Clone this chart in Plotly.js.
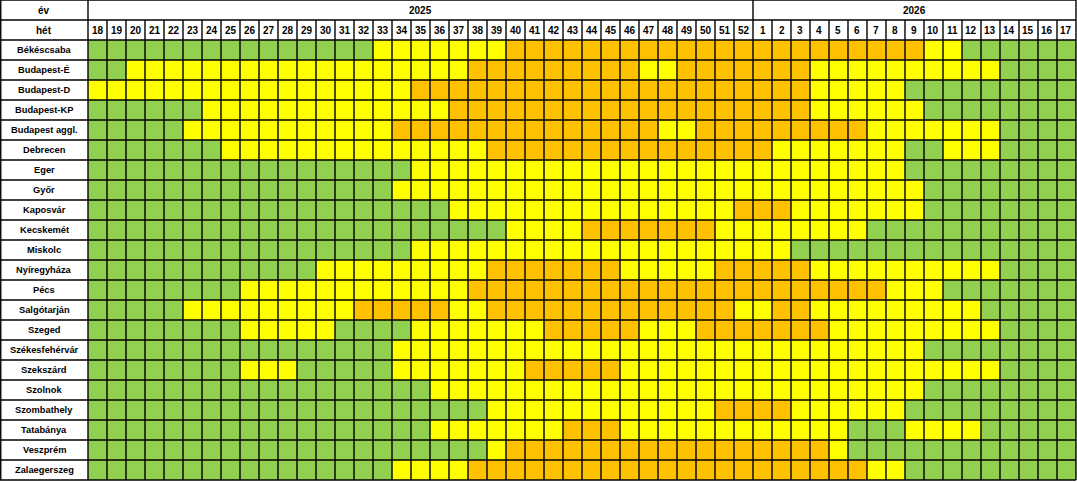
<!DOCTYPE html>
<html>
<head>
<meta charset="utf-8">
<script src="https://cdn.plot.ly/plotly-3.0.1.min.js"></script>
<style>
  html, body { margin: 0; padding: 0; background: #ffffff; }
  #chart { width: 1077px; height: 482px; }
</style>
</head>
<body>
<div id="chart"></div>
<script>
// ---- data ----
const cities = ["Békéscsaba", "Budapest-É", "Budapest-D", "Budapest-KP", "Budapest aggl.", "Debrecen",
  "Eger", "Győr", "Kaposvár", "Kecskemét", "Miskolc", "Nyíregyháza", "Pécs", "Salgótarján", "Szeged",
  "Székesfehérvár", "Szekszárd", "Szolnok", "Szombathely", "Tatabánya", "Veszprém", "Zalaegerszeg"];

const weeks = ["18","19","20","21","22","23","24","25","26","27","28","29","30","31","32","33","34","35",
  "36","37","38","39","40","41","42","43","44","45","46","47","48","49","50","51","52",
  "1","2","3","4","5","6","7","8","9","10","11","12","13","14","15","16","17"];

const years = ["2025", "2026"];
const yearWeekCount = [35, 17];

// level per city per week: 1 = green, 2 = yellow, 3 = orange
const levels = [
  // Békéscsaba
  [1,1,1,1,1, 1,1,1,1,1, 1,1,1,1,1,  2,2,2,2,2, 2,2,  3,3,3,3,3, 3,3,3,3,3, 3,3,3,
   3,3,3,3,3, 3,3,3,3,  2,2,  1,1,1,1,1, 1],
  // Budapest-É
  [1,1,  2,2,2,2,2, 2,2,2,2,2, 2,2,2,2,2, 2,2,2,  3,3,3,3,3, 3,3,3,3,  2,2,  3,3,3,3,
   3,3,3,  2,2,2,2,2, 2,2,2,2,2,  1,1,1,1],
  // Budapest-D
  [2,2,2,2,2, 2,2,2,2,2, 2,2,2,2,2, 2,2,  3,3,3,3,3, 3,3,3,3,3, 3,3,3,3,3, 3,3,3,
   3,3,3,  2,2,2,2,2,  1,1,1,1,1, 1,1,1,1],
  // Budapest-KP
  [1,1,1,1,1, 1,  2,2,2,2,2, 2,2,2,2,2, 2,2,2,  3,3,3,3,3, 3,3,3,3,3, 3,3,3,3,3, 3,
   3,3,3,  2,2,2,2,2, 2,  1,1,1,1,1, 1,1,1],
  // Budapest aggl.
  [1,1,1,1,1,  2,2,2,2,2, 2,2,2,2,2, 2,  3,3,3,3,3, 3,3,3,3,3, 3,3,3,3,  2,2,  3,3,3,
   3,3,3,3,3, 3,  2,2,2,2,2, 2,2,  1,1,1,1],
  // Debrecen
  [1,1,1,1,1, 1,1,  2,2,2,2,2, 2,2,2,2,2, 2,2,2,2,  3,3,3,3,3, 3,3,3,3,3, 3,3,3,3,
   3,  2,2,2,2,2, 2,2,  1,1,  2,2,2,  1,1,1,1],
  // Eger
  [1,1,1,1,1, 1,1,1,1,1, 1,1,1,1,1, 1,1,  2,2,2,2,2, 2,2,2,2,2, 2,2,2,2,2, 2,2,2,
   2,2,2,2,2, 2,2,2,  1,1,1,1,1, 1,1,1,1],
  // Győr
  [1,1,1,1,1, 1,1,1,1,1, 1,1,1,1,1, 1,  2,2,2,2,2, 2,2,2,2,2, 2,2,2,2,2, 2,2,2,2,
   2,2,2,2,2, 2,2,2,2,  1,1,1,1,1, 1,1,1],
  // Kaposvár
  [1,1,1,1,1, 1,1,1,1,1, 1,1,1,1,1, 1,1,1,1,  2,2,2,2,2, 2,2,2,2,2, 2,2,2,2,2,  3,
   3,3,  2,2,2,2,2, 2,2,  1,1,1,1,1, 1,1,1],
  // Kecskemét
  [1,1,1,1,1, 1,1,1,1,1, 1,1,1,1,1, 1,1,1,1,1, 1,1,  2,2,2,2,  3,3,3,3,3, 3,3,  2,2,
   2,2,2,2,2, 2,  1,1,1,1,1, 1,1,1,1,1, 1],
  // Miskolc
  [1,1,1,1,1, 1,1,1,1,1, 1,1,1,1,1, 1,1,  2,2,2,2,2, 2,2,2,2,2, 2,2,2,2,2, 2,2,2,
   2,2,  1,1,1,1,1, 1,1,1,1,1, 1,1,1,1,1],
  // Nyíregyháza
  [1,1,1,1,1, 1,1,1,1,1, 1,1,  2,2,2,2,2, 2,2,2,2,  3,3,3,3,3, 3,3,  2,2,2,2,2,  3,3,
   3,3,3,  2,2,2,2,2, 2,2,2,2,2,  1,1,1,1],
  // Pécs
  [1,1,1,1,1, 1,1,1,  2,2,2,2,2, 2,2,2,2,2, 2,2,  3,3,3,3,3, 3,3,3,3,3, 3,3,3,3,3,
   3,3,3,3,3, 3,3,  2,2,2,  1,1,1,1,1, 1,1],
  // Salgótarján
  [1,1,1,1,1,  2,2,2,2,2, 2,2,2,2,  3,3,3,3,3,  2,2,  3,3,3,3,3, 3,3,3,3,3, 3,3,3,  2,
   2,  3,3,  2,2,2,2,2, 2,2,2,2,  1,1,1,1,1],
  // Szeged
  [1,1,1,1,1, 1,1,1,  2,2,2,2,2,  1,1,1,1,  2,2,2,2,2, 2,2,  3,3,3,3,3,  2,2,2,  3,3,3,
   3,3,3,3,  2,2,2,2,2, 2,2,2,2,  1,1,1,1],
  // Székesfehérvár
  [1,1,1,1,1, 1,1,1,1,1, 1,1,1,1,1, 1,  2,2,2,2,2, 2,2,2,2,2, 2,2,2,2,2, 2,2,2,2,
   2,2,2,2,2, 2,2,2,2,  1,1,1,1,1, 1,1,1],
  // Szekszárd
  [1,1,1,1,1, 1,1,1,  2,2,2,  1,1,1,1,1,  2,2,2,2,2, 2,2,  3,3,3,3,3,  2,2,2,2,2, 2,2,
   2,2,2,2,2, 2,2,2,2,2, 2,2,2,  1,1,1,1],
  // Szolnok
  [1,1,1,1,1, 1,1,1,1,1, 1,1,1,1,1, 1,1,1,  2,2,2,2,2, 2,2,2,2,2, 2,2,2,2,2, 2,2,
   2,2,2,2,2, 2,2,2,2,  1,1,1,1,1, 1,1,1],
  // Szombathely
  [1,1,1,1,1, 1,1,1,1,1, 1,1,1,1,1, 1,1,1,1,1, 1,  2,2,2,2,2, 2,2,2,2,2, 2,2,  3,3,
   3,3,  2,2,2,2,2, 2,  1,1,1,1,1, 1,1,1,1],
  // Tatabánya
  [1,1,1,1,1, 1,1,1,1,1, 1,1,1,1,1, 1,1,1,  2,2,2,2,2, 2,2,  3,3,3,  2,2,2,2,2, 2,2,
   2,2,2,2,2,  1,1,1,  2,2,2,2,  1,1,1,1,1],
  // Veszprém
  [1,1,1,1,1, 1,1,1,1,1, 1,1,1,1,1, 1,1,1,1,1, 1,  2,  3,3,3,3,3, 3,3,3,3,3, 3,3,3,
   3,3,3,3,  2,  1,1,1,1,1, 1,1,1,1,1, 1,1],
  // Zalaegerszeg
  [1,1,1,1,1, 1,1,1,1,1, 1,1,1,1,1, 1,  2,2,2,2,  3,3,3,3,3, 3,3,3,3,3, 3,3,3,3,3,
   3,3,3,3,3, 3,  2,2,  1,1,1,1,1, 1,1,1,1]
];

const levelColors = ["#92D050", "#FFFF00", "#FFC000"];
const headerYear = "év";
const headerWeek = "hét";

// ---- checks ----
levels.forEach((row, i) => {
  if (row.length !== weeks.length) throw new Error("row " + cities[i] + " has " + row.length + " values");
});

// ---- geometry in data units (1 unit = one cell) ----
const labelLeft = -5.1316;   // left edge of the label column
const xLeft = -0.5, xRight = weeks.length - 0.5;
const yTop = -2.5, yBottom = cities.length - 0.5 + 0.1;
const lineColor = "#000000";
const lw = 1.4;

const xIdx = weeks.map((w, i) => i);
const yIdx = cities.map((c, i) => i);

const trace = {
  type: "heatmap",
  x: xIdx,
  y: yIdx,
  z: levels,
  zmin: 0.5, zmax: 3.5,
  colorscale: [[0, levelColors[0]], [1/3, levelColors[0]], [1/3, levelColors[1]],
               [2/3, levelColors[1]], [2/3, levelColors[2]], [1, levelColors[2]]],
  showscale: false,
  hoverinfo: "skip",
  zsmooth: false
};

const shapes = [];
function hline(y) {
  shapes.push({type: "line", xref: "x", yref: "y", x0: labelLeft, x1: xRight, y0: y, y1: y,
               line: {color: lineColor, width: lw}, layer: "above"});
}
function vline(x, y0, y1) {
  shapes.push({type: "line", xref: "x", yref: "y", x0: x, x1: x, y0: y0, y1: y1,
               line: {color: lineColor, width: lw}, layer: "above"});
}
// horizontal lines: top, between header rows, and each data row
for (let k = 0; k <= cities.length + 2; k++) hline(yTop + k);
// label column edges
vline(labelLeft + 0.04, yTop, cities.length - 0.5);
// week column lines (in week row and data rows)
for (let k = 0; k <= weeks.length; k++) vline(xLeft + k, -1.5, cities.length - 0.5);
// year row separators
let acc = xLeft;
vline(acc, yTop, -1.5);
yearWeekCount.forEach(n => { acc += n; vline(acc, yTop, -1.5); });

const annotations = [];
const labelCenter = (labelLeft + xLeft) / 2;
const boldFont = (size) => ({family: "Liberation Sans, Arial, sans-serif", size: size, color: "#000000"});

annotations.push({x: labelCenter, y: -2, xref: "x", yref: "y", text: "<b>" + headerYear + "</b>",
                  showarrow: false, font: boldFont(10)});
annotations.push({x: labelCenter, y: -1, xref: "x", yref: "y", text: "<b>" + headerWeek + "</b>",
                  showarrow: false, font: boldFont(10)});
let start = xLeft;
years.forEach((yr, i) => {
  const n = yearWeekCount[i];
  annotations.push({x: start + n / 2, y: -2, xref: "x", yref: "y", text: "<b>" + yr + "</b>",
                    showarrow: false, font: boldFont(10)});
  start += n;
});
weeks.forEach((w, i) => {
  annotations.push({x: i, y: -1, xref: "x", yref: "y", text: "<b>" + w + "</b>",
                    showarrow: false, font: boldFont(10)});
});
cities.forEach((c, i) => {
  annotations.push({x: labelCenter, y: i, xref: "x", yref: "y", text: "<b>" + c + "</b>",
                    showarrow: false, font: boldFont(9.3)});
});

const layout = {
  width: 1077, height: 482,
  margin: {l: 0, r: 0, t: 0, b: 0, pad: 0},
  paper_bgcolor: "#ffffff",
  plot_bgcolor: "#ffffff",
  showlegend: false,
  xaxis: {range: [labelLeft, 51.553], visible: false, fixedrange: true, showgrid: false, zeroline: false},
  yaxis: {range: [yBottom, yTop], visible: false, fixedrange: true, showgrid: false, zeroline: false},
  shapes: shapes,
  annotations: annotations
};

Plotly.newPlot("chart", [trace], layout, {displayModeBar: false, staticPlot: true});
</script>
</body>
</html>
